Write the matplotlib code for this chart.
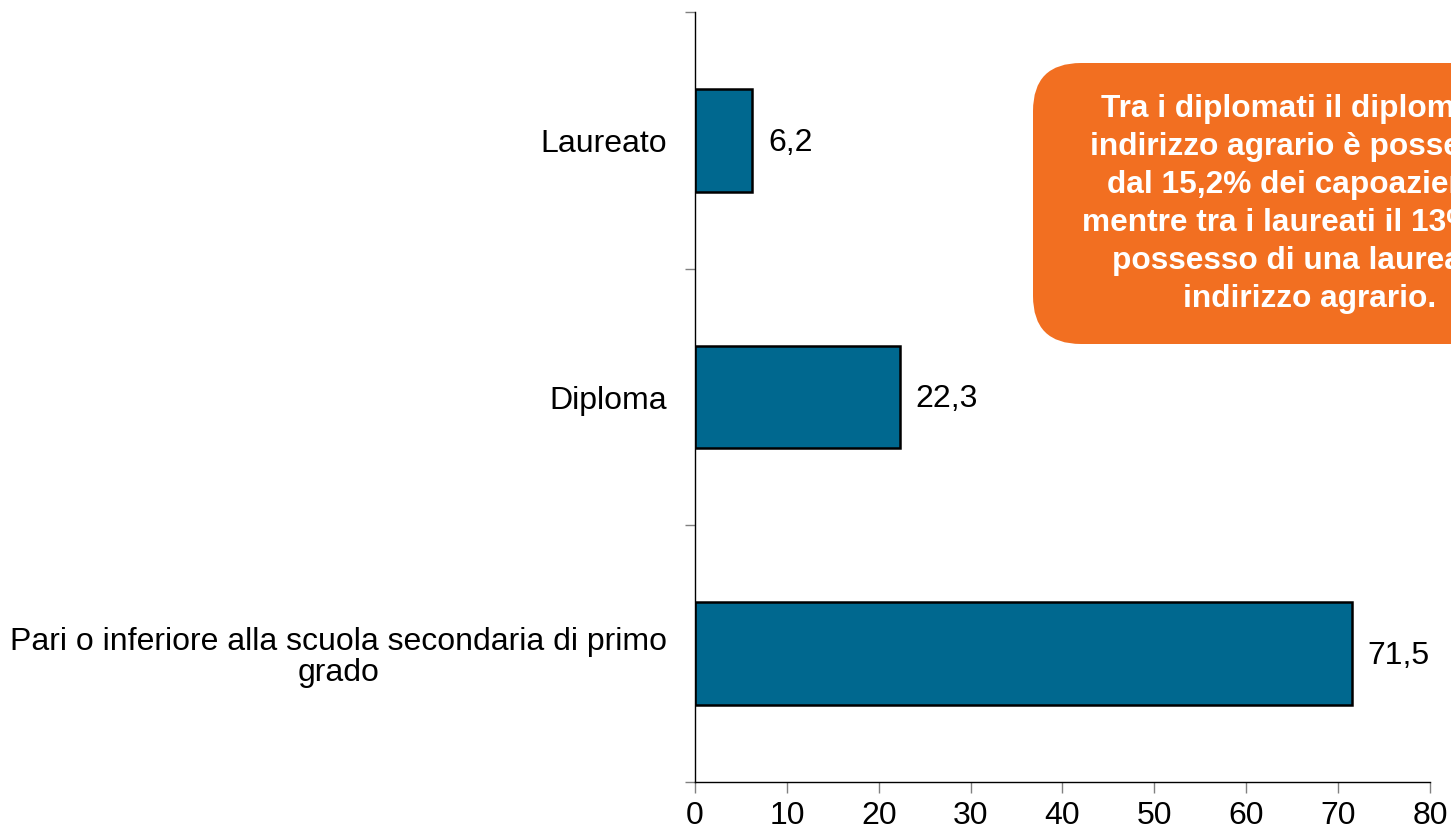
import matplotlib.pyplot as plt
import matplotlib.patches as mpatches
from matplotlib.transforms import IdentityTransform

plt.rcParams["font.family"] = ["Liberation Sans", "DejaVu Sans"]

# Dati (dal basso verso l'alto)
categories = ["Pari o inferiore alla scuola secondaria di primo\ngrado", "Diploma", "Laureato"]
values = [71.5, 22.3, 6.2]
value_labels = ["71,5", "22,3", "6,2"]
xticks = [0, 10, 20, 30, 40, 50, 60, 70, 80]

note = ("Tra i diplomati il diploma ad\n"
        "indirizzo agrario è posseduto\n"
        "dal 15,2% dei capoazienda,\n"
        "mentre tra i laureati il 13% è in\n"
        "possesso di una laurea ad\n"
        "indirizzo agrario.")

BAR_COLOR = "#00688F"
BOX_COLOR = "#F26F21"
FS = 23

fig = plt.figure(figsize=(14.51, 8.35), dpi=100)
ax = fig.add_axes([0.479, 0.0635, 0.5065, 0.922])

pos = list(range(len(categories)))
bars = ax.barh(pos, values, height=0.4, color=BAR_COLOR, edgecolor="black", linewidth=1.8)

for bar, lab in zip(bars, value_labels):
    ax.annotate(lab, (bar.get_width(), bar.get_y() + bar.get_height() / 2),
                xytext=(11.5, -1.5), textcoords="offset points",
                ha="left", va="center", fontsize=FS)

ax.set_xlim(0, 80)
ax.set_ylim(-0.5, len(categories) - 0.5)
ax.set_xticks(xticks)
ax.set_xticklabels([str(t) for t in xticks], fontsize=FS)

ax.set_yticks(pos)
ax.set_yticklabels(categories, fontsize=FS)
for t in ax.get_yticklabels():
    t.set_multialignment("center")
    t.set_linespacing(1.05)
ax.set_yticks([p - 0.5 for p in pos] + [pos[-1] + 0.5], minor=True)
ax.tick_params(axis="y", which="major", length=0, pad=20)
ax.tick_params(axis="y", which="minor", length=7, color="#808080", width=1)
ax.tick_params(axis="x", length=8, color="#808080", width=1, pad=6)

for s in ["top", "right"]:
    ax.spines[s].set_visible(False)
for s in ["left", "bottom"]:
    ax.spines[s].set_linewidth(1.0)
    ax.spines[s].set_color("black")

# Riquadro arancione con nota
box = mpatches.FancyBboxPatch((1033, 835 - 344), 560, 281,
                              boxstyle="round,pad=0,rounding_size=48",
                              facecolor=BOX_COLOR, edgecolor="none",
                              transform=IdentityTransform())
fig.add_artist(box)
fig.text(1310 / 1451, 1 - 204 / 835, note, ha="center", va="center",
         multialignment="center", color="white", fontweight="bold",
         fontsize=22.8, linespacing=1.34)

fig.savefig("out.png", dpi=100)
